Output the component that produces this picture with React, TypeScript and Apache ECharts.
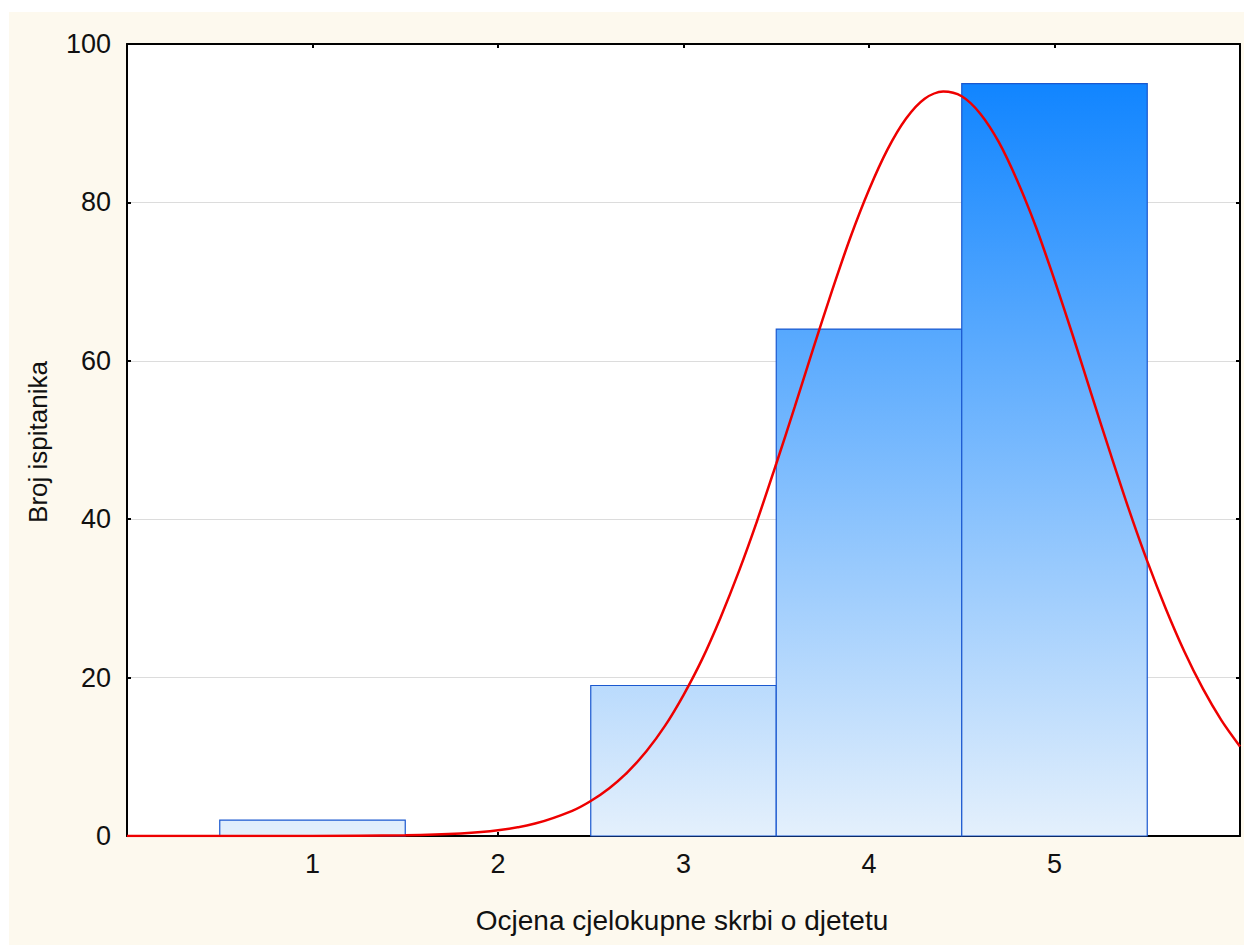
import React, { useEffect, useRef } from "react";
import * as echarts from "echarts";

// Histogram data
const binCenters = [1, 2, 3, 4, 5];
const binCounts = [2, 0, 19, 64, 95];

// Fitted normal curve
const curveX = [0, 0.5, 1, 1.5, 1.8, 2.0, 2.2, 2.4, 2.5, 2.6, 2.7, 2.8, 2.9, 3.0, 3.1, 3.2, 3.3, 3.4, 3.5, 3.6, 3.7, 3.8, 3.9, 4.0, 4.1, 4.2, 4.3, 4.4, 4.5, 4.6, 4.7, 4.8, 4.9, 5.0, 5.1, 5.2, 5.3, 5.4, 5.5, 5.6, 5.7, 5.8, 5.9, 6.0];
const curveY = [0, 0, 0.01, 0.08, 0.31, 0.72, 1.57, 3.18, 4.42, 6.03, 8.1, 10.7, 13.9, 17.8, 22.3, 27.6, 33.5, 40.0, 47.0, 54.2, 61.6, 68.8, 75.6, 81.6, 86.7, 90.6, 93.1, 94.0, 93.4, 91.2, 87.6, 82.7, 76.9, 70.2, 63.1, 55.7, 48.4, 41.3, 34.7, 28.7, 23.3, 18.6, 14.6, 11.3];

const xTickLabels = [1, 2, 3, 4, 5];
const yTickValues = [0, 20, 40, 60, 80, 100];

const xTitle = "Ocjena cjelokupne skrbi o djetetu";
const yTitle = "Broj ispitanika";

const FONT = "'Liberation Sans', Arial, sans-serif";

export default function App() {
  const ref = useRef<HTMLDivElement>(null);

  useEffect(() => {
    if (!ref.current) return;
    const chart = echarts.init(ref.current, null, { renderer: "svg" });
    const maxCount = Math.max(...binCounts);

    const option: any = {
      animation: false,
      backgroundColor: "#fdf9ee",
      grid: {
        left: 118,
        right: 4,
        top: 32,
        bottom: 109,
        show: true,
        backgroundColor: "#ffffff",
        borderWidth: 0,
      },
      xAxis: [
        {
          type: "value",
          min: 0,
          max: 6,
          interval: 1,
          position: "bottom",
          axisLine: { show: true, lineStyle: { color: "#000", width: 2 } },
          axisTick: { show: true, inside: true, length: 4, customValues: xTickLabels, lineStyle: { color: "#000", width: 2 } },
          axisLabel: { show: true, customValues: xTickLabels, margin: 14, fontSize: 27, fontFamily: FONT, color: "#111" },
          splitLine: { show: false },
        },
        {
          type: "value",
          min: 0,
          max: 6,
          interval: 1,
          position: "top",
          axisLine: { show: true, onZero: false, lineStyle: { color: "#000", width: 2 } },
          axisTick: { show: true, inside: true, length: 4, customValues: xTickLabels, lineStyle: { color: "#000", width: 2 } },
          axisLabel: { show: false },
          splitLine: { show: false },
        },
      ],
      yAxis: [
        {
          type: "value",
          min: 0,
          max: yTickValues[yTickValues.length - 1],
          interval: yTickValues[1] - yTickValues[0],
          position: "left",
          axisLine: { show: true, lineStyle: { color: "#000", width: 2 } },
          axisTick: { show: true, inside: true, length: 4, lineStyle: { color: "#000", width: 2 } },
          axisLabel: { show: true, margin: 16, fontSize: 27, fontFamily: FONT, color: "#111" },
          splitLine: { show: true, lineStyle: { color: "#dcdcdc", width: 1 } },
        },
        {
          type: "value",
          min: 0,
          max: yTickValues[yTickValues.length - 1],
          interval: yTickValues[1] - yTickValues[0],
          position: "right",
          axisLine: { show: true, onZero: false, lineStyle: { color: "#000", width: 2 } },
          axisTick: { show: true, inside: true, length: 4, lineStyle: { color: "#000", width: 2 } },
          axisLabel: { show: false },
          splitLine: { show: false },
        },
      ],
      series: [
        {
          type: "custom",
          xAxisIndex: 0,
          yAxisIndex: 0,
          encode: { x: 0, y: 1 },
          data: binCenters.map((c, i) => [c, binCounts[i]]),
          z: 2,
          renderItem: (params: any, api: any) => {
            const x = api.value(0);
            const v = api.value(1);
            if (!v) return null;
            const p1 = api.coord([x - 0.5, v]);
            const p2 = api.coord([x + 0.5, 0]);
            const yTop = api.coord([0, maxCount])[1];
            const y0 = api.coord([0, 0])[1];
            return {
              type: "rect",
              shape: { x: p1[0], y: p1[1], width: p2[0] - p1[0], height: p2[1] - p1[1] },
              style: {
                fill: new echarts.graphic.LinearGradient(
                  0, yTop, 0, y0,
                  [
                    { offset: 0, color: "#1185ff" },
                    { offset: 1, color: "#e4f0fc" },
                  ],
                  true
                ),
                stroke: "#1a58cf",
                lineWidth: 1.2,
              },
            };
          },
        },
        {
          type: "line",
          xAxisIndex: 0,
          yAxisIndex: 0,
          data: curveX.map((x, i) => [x, curveY[i]]),
          smooth: 0.3,
          showSymbol: false,
          symbol: "none",
          lineStyle: { color: "#ee0000", width: 2.5 },
          z: 5,
        },
      ],
      graphic: [
        {
          type: "text",
          x: 673,
          y: 908,
          style: {
            text: xTitle,
            fontSize: 28,
            fontFamily: FONT,
            fill: "#111",
            textAlign: "center",
            textVerticalAlign: "middle",
          },
        },
        {
          type: "text",
          x: 29,
          y: 430,
          rotation: Math.PI / 2,
          style: {
            text: yTitle,
            fontSize: 26,
            fontFamily: FONT,
            fill: "#111",
            textAlign: "center",
            textVerticalAlign: "middle",
          },
        },
      ],
    };

    chart.setOption(option);
    return () => {
      chart.dispose();
    };
  }, []);

  return (
    <div
      ref={ref}
      style={{ position: "fixed", left: 9, top: 12, width: 1235, height: 933 }}
    />
  );
}
